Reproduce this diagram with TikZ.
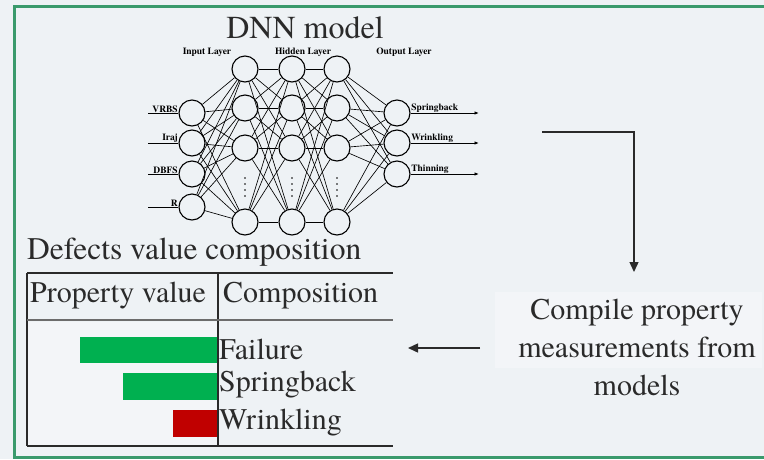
\documentclass[tikz,border=0pt]{standalone}
\usepackage{fontspec}
\setmainfont{texgyretermes-regular.otf}[BoldFont=texgyretermes-bold.otf]
\usetikzlibrary{arrows.meta}
\definecolor{bg}{HTML}{EEF2F5}
\definecolor{framegreen}{HTML}{3A9A6C}
\definecolor{bargreen}{HTML}{00B050}
\definecolor{barred}{HTML}{C00000}
\definecolor{ink}{HTML}{2A2A2A}
\begin{document}
\begin{tikzpicture}[x=1pt,y=-1pt,
  neuron/.style={circle,draw=black,line width=1.1pt,minimum size=26pt,inner sep=0pt},
  conn/.style={line width=0.65pt,draw=black},
  big/.style={font=\fontsize{30}{38}\selectfont,text=ink,inner sep=0pt},
  tiny/.style={font=\fontsize{9.5}{10}\selectfont\bfseries,inner sep=0.5pt},
  arr/.style={line width=1.4pt,draw=ink,-{Triangle[length=10pt,width=9pt]}},
  smallarr/.style={line width=0.9pt,-{Latex[length=4.5pt,width=3.5pt]}}]
\path[use as bounding box] (0,0) rectangle (764,459);
\fill[bg] (0,0) rectangle (764,459);
\fill[white,opacity=0.3] (495,292) rectangle (762,368);
\fill[white,opacity=0.3] (28,322) rectangle (217,445);
\draw[framegreen,line width=3pt] (14,6) rectangle (790,457);

% title
\node[font=\fontsize{32}{36}\selectfont,text=ink,inner sep=0pt] (dnn) at (305,28) {DNN model};
\node[tiny] (lin) at (207,52) {Input Layer};
\node[tiny] (lhid) at (303,52) {Hidden Layer};
\node[tiny] (lout) at (404,52) {Output Layer};

% neurons
\foreach \n/\y in {1/113,2/143,3/174,4/207}
  \node[neuron] (i\n) at (192,\y) {};
\foreach \n/\y in {1/69,2/108,3/148,4/222}{
  \node[neuron] (a\n) at (245,\y) {};
  \node[neuron] (b\n) at (292,\y) {};
  \node[neuron] (c\n) at (337,\y) {};
}
\foreach \n/\y in {1/113,2/143,3/174}
  \node[neuron] (o\n) at (397,\y) {};

% dots
\foreach \x in {245,292,337}
  \foreach \y in {178,184,190,196}
    \fill (\x,\y) circle (0.9pt);

% connections
\foreach \i in {1,2,3,4}{
  \foreach \j in {1,2,3,4}{
    \draw[conn] (i\i) -- (a\j);
    \draw[conn] (a\i) -- (b\j);
    \draw[conn] (b\i) -- (c\j);
  }
  \foreach \j in {1,2,3}
    \draw[conn] (c\i) -- (o\j);
}

% inputs
\foreach \n/\y/\t in {1/113/VRBS,2/143/Iraj,3/174/DBFS,4/207/R}{
  \coordinate (x\n) at (148,\y);
  \draw[line width=0.9pt] (x\n) -- (i\n.west);
  \node[tiny,anchor=south east] (t\n) at (i\n.west) {\t};
}
% outputs
\foreach \n/\y/\t in {1/113/Springback,2/143/Wrinkling,3/174/Thinning}{
  \coordinate (y\n) at (479,\y);
  \draw[smallarr] (o\n.east) -- (y\n);
  \node[tiny,anchor=south west] (u\n) at (o\n.east) {\t};
}

% table
\node[big,anchor=west,font=\fontsize{31.5}{38}\selectfont] (ttl) at (27,252) {Defects value composition};
\draw[line width=1.3pt,ink] (27,273) -- (393,273);
\draw[line width=1.3pt,ink] (27,446) -- (393,446);
\draw[line width=1.3pt,ink] (27,273) -- (27,446);
\draw[line width=1.3pt,ink] (218,273) -- (218,446);
\draw[line width=2.2pt,gray!85!black] (27,320) -- (393,320);
\node[big,anchor=west] (h1) at (30,296) {Property value};
\node[big,anchor=west] (h2) at (223,296) {Composition};
\fill[bargreen] (80,337) rectangle (217,363);
\fill[bargreen] (123,373) rectangle (217,400);
\fill[barred] (173,410) rectangle (217,437);
\node[big,anchor=west] (f1) at (219,349) {Failure};
\node[big,anchor=west] (f2) at (219,385) {Springback};
\node[big,anchor=west] (f3) at (219,423) {Wrinkling};

% right side
\node[big,align=center] (comp) at (637,347) {Compile property\\measurements from\\models};
\coordinate (s) at (542,132);
\coordinate (k) at (634,132);
\coordinate (e) at (634,272);
\draw[arr] (s) -- (k) -- (e);
\coordinate (la) at (480,348);
\coordinate (lb) at (408,348);
\draw[arr] (la) -- (lb);
\end{tikzpicture}
\end{document}
